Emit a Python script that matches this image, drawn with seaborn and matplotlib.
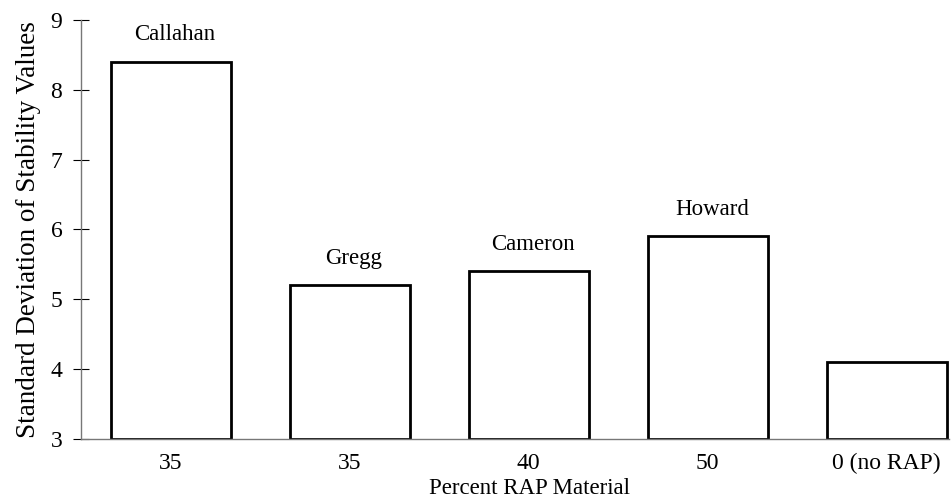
import matplotlib
matplotlib.use("Agg")
import matplotlib.pyplot as plt
import seaborn as sns
import pandas as pd

categories = ["35", "35", "40", "50", "0 (no RAP)"]
values = [8.4, 5.2, 5.4, 5.9, 4.1]
sites = ["Callahan", "Gregg", "Cameron", "Howard", ""]
yticks = [3, 4, 5, 6, 7, 8, 9]

sns.set_theme(style="white")
plt.rcParams["font.family"] = ["Liberation Serif", "DejaVu Serif"]

df = pd.DataFrame({"pos": range(len(categories)), "sd": values, "site": sites})

fig = plt.figure(figsize=(9.51, 5.01), dpi=100)
ax = fig.add_axes([0.0852, 0.124, 0.913, 0.836])

sns.barplot(data=df, x="pos", y="sd", color="white", edgecolor="black",
            linewidth=2.0, width=0.67, ax=ax, saturation=1)

base = yticks[0]
for p in ax.patches:
    h = p.get_height()
    p.set_y(base)
    p.set_height(h - base)

for i, (v, s) in enumerate(zip(values, sites)):
    if s:
        ax.annotate(s, xy=(i, v), xytext=(3, 12), textcoords="offset points",
                    ha="center", va="bottom", fontsize=16.5, color="black")

ax.set_ylim(3, 9)
ax.set_xlim(-0.5, 4.35)
ax.set_yticks(yticks)
ax.set_yticklabels([str(t) for t in yticks])
ax.set_xticks(range(len(categories)))
ax.set_xticklabels(categories)

ax.tick_params(axis="y", direction="inout", length=11, width=0.8, pad=8,
               labelsize=17, colors="black", left=True)
ax.tick_params(axis="x", length=0, pad=10, labelsize=17, colors="black")

for side in ["top", "right"]:
    ax.spines[side].set_visible(False)
ax.spines["left"].set_color("#777777")
ax.spines["left"].set_linewidth(1.0)
ax.spines["bottom"].set_color("#777777")
ax.spines["bottom"].set_linewidth(1.0)

ax.set_ylabel("Standard Deviation of Stability Values", fontsize=19.5,
              color="black", labelpad=7)
ax.set_xlabel("Percent RAP Material", fontsize=16.5, color="black")
ax.xaxis.set_label_coords(0.516, -0.093)

fig.savefig("out.png", dpi=100, facecolor="white")
